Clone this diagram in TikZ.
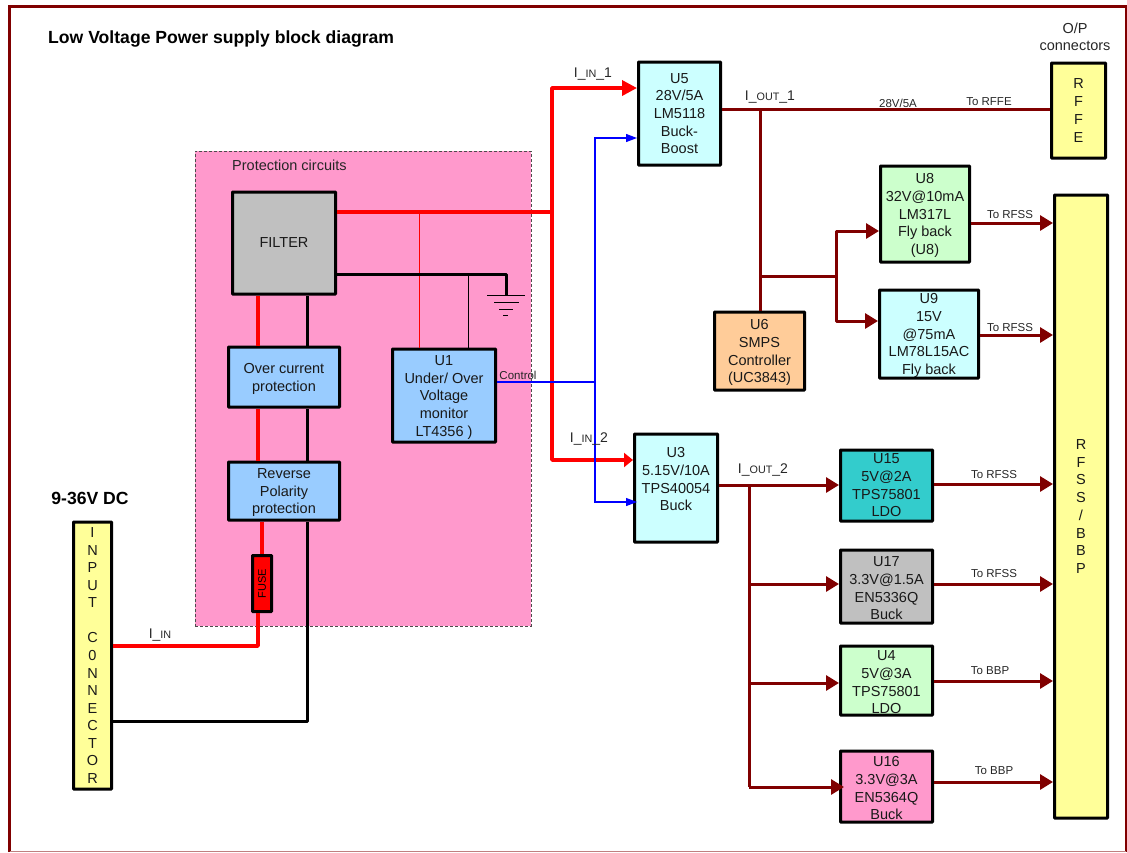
\documentclass[tikz,border=0pt]{standalone}
\usepackage{fontspec}
\setmainfont{Liberation Sans}
\usetikzlibrary{arrows.meta}
\definecolor{wine}{RGB}{128,0,0}
\definecolor{pinkbg}{RGB}{255,153,204}
\definecolor{bluebox}{RGB}{153,204,255}
\definecolor{cyanbox}{RGB}{204,255,255}
\definecolor{greenbox}{RGB}{204,255,204}
\definecolor{orangebox}{RGB}{255,204,153}
\definecolor{tealbox}{RGB}{51,204,204}
\definecolor{greybox}{RGB}{192,192,192}
\definecolor{yellowbox}{RGB}{255,255,153}
\newcommand{\sm}[1]{{\fontsize{10.8}{11}\selectfont #1}}
\newcommand{\dn}{\rule{0pt}{13.5pt}}
\tikzset{
  block/.style={draw=black, line width=3pt, align=center, inner sep=0pt, rounded corners=0.5pt,
    font=\fontsize{14.5}{17.7}\selectfont, text=black!90},
  lbl/.style={inner sep=0pt, text=black!85, font=\fontsize{14}{15}\selectfont},
  tiny/.style={inner sep=0pt, text=black!85, font=\fontsize{11.5}{12}\selectfont},
  head/.style={inner sep=0pt, font=\bfseries\fontsize{17.6}{20}\selectfont},
  redfat/.style={red, line width=3.5pt, line join=round},
  redthin/.style={red, line width=1pt},
  blkfat/.style={black, line width=3pt, line join=round},
  blkthin/.style={black, line width=1pt},
  ctrl/.style={blue, line width=1.2pt},
  wirefat/.style={wine, line width=3pt, line join=round},
  redarrow/.style={redfat, -{Triangle[length=15pt,width=15pt]}},
  ctrlarrow/.style={ctrl, -{Triangle[length=11pt,width=8pt]}},
  winearrow/.style={wirefat, -{Triangle[length=13pt,width=15pt]}},
}
\begin{document}
\begin{tikzpicture}[x=1pt,y=-1pt]
  \useasboundingbox (0,0) rectangle (1127,852);

  % frame
  \draw[wine, line width=3pt] (9.5,852) -- (9.5,6) -- (1126,6) -- (1126,852);
  \draw[wine!50, line width=0.8pt] (9.5,851) -- (1126,851);

  \node[head, anchor=west] (title) at (48,39) {Low Voltage Power supply block diagram};
  \node[head] (vdc) at (90,498) {9-36V DC};
  \node[lbl, align=center, font=\fontsize{14.5}{17}\selectfont] (opconn) at (1075,37) {O/P\\connectors};

  % protection area
  \node[draw=black!70, densely dashed, line width=0.7pt, fill=pinkbg, minimum width=336pt, minimum height=475pt, inner sep=0pt] (prot) at (363,388.5) {};
  \node[lbl, anchor=west, font=\fontsize{14.5}{16}\selectfont] (protlbl) at (232,165) {Protection circuits};

  \node[block, fill=greybox, minimum width=103pt, minimum height=102pt] (FILTER) at (284,243) {FILTER};
  \node[block, fill=bluebox, minimum width=111pt, minimum height=60pt] (OCP) at (284,377) {\dn Over current\\protection};
  \node[block, fill=bluebox, minimum width=111pt, minimum height=58pt] (RPP) at (284,491) {\dn Reverse\\Polarity\\protection};
  \node[block, fill=bluebox, minimum width=103pt, minimum height=93pt] (U1) at (444,395.5) {\dn U1\\Under/ Over\\Voltage\\monitor\\LT4356 )};
  \node[block, fill=red, minimum width=19pt, minimum height=56pt] (FUSE) at (262,583.5) {};
  \node[rotate=90, inner sep=0pt, font=\fontsize{11}{12}\selectfont] (fuselbl) at (FUSE) {FUSE};

  \node[block, fill=yellowbox, minimum width=38pt, minimum height=267pt,
    font=\fontsize{14.5}{17.55}\selectfont] (INPUT) at (92.5,655.5) {I\\N\\P\\U\\T\\~\\C\\0\\N\\N\\E\\C\\T\\O\\R};

  % regulators
  \node[block, fill=cyanbox, minimum width=82pt, minimum height=103pt] (U5) at (679.5,113.5) {U5\\28V/5A\\LM5118\\Buck-\\Boost};
  \node[block, fill=cyanbox, minimum width=83pt, minimum height=108pt] (U3) at (676,488) {U3\\5.15V/10A\\TPS40054\\Buck\\~};
  \node[block, fill=greenbox, minimum width=89pt, minimum height=96pt] (U8) at (925,214) {\dn U8\\32V@10mA\\LM317L\\Fly back\\(U8)};
  \node[block, fill=cyanbox, minimum width=99pt, minimum height=88pt] (U9) at (929,334) {\dn U9\\15V\\@75mA\\LM78L15AC\\Fly back};
  \node[block, fill=orangebox, minimum width=90pt, minimum height=78pt] (U6) at (759.5,351) {\dn U6\\SMPS\\Controller\\(UC3843)};
  \node[block, fill=tealbox, minimum width=92pt, minimum height=71pt] (U15) at (886.5,485.5) {U15\\5V@2A\\TPS75801\\LDO};
  \node[block, fill=greybox, minimum width=92pt, minimum height=73pt] (U17) at (886.5,586.5) {\dn U17\\3.3V@1.5A\\EN5336Q\\Buck};
  \node[block, fill=greenbox, minimum width=92pt, minimum height=69pt] (U4) at (886.5,680.5) {\dn U4\\5V@3A\\TPS75801\\LDO};
  \node[block, fill=pinkbg, minimum width=92pt, minimum height=71pt] (U16) at (886.5,786.5) {\dn U16\\3.3V@3A\\EN5364Q\\Buck};
  \node[block, fill=yellowbox, minimum width=54pt, minimum height=95pt] (RFFE) at (1078.5,110.5) {R\\F\\F\\E};
  \node[block, fill=yellowbox, minimum width=53pt, minimum height=623pt] (RFSS) at (1081,506.5) {R\\F\\S\\S\\/\\B\\B\\P};

  % junctions
  \coordinate (redtap) at (552,212);
  \coordinate (ctrltap) at (595,382);
  \coordinate (outtap) at (760,109);
  \coordinate (smpstap) at (836,276);
  \coordinate (buck2tap) at (749,485);
  \coordinate (gnd) at (506,295);

  % input side
  \draw[redfat] (INPUT.east |- 0,646) -- (258,646) -- (258,0 |- FUSE.south);
  \draw[redfat] (FUSE.north) -- (262,0 |- RPP.south);
  \draw[redfat] (258,0 |- RPP.north) -- (258,0 |- OCP.south);
  \draw[redfat] (258,0 |- OCP.north) -- (258,0 |- FILTER.south);
  \draw[blkfat] (INPUT.east |- 0,721.5) -- (307,721.5) -- (307,0 |- RPP.south);
  \draw[blkfat] (307,0 |- RPP.north) -- (307,0 |- OCP.south);
  \draw[blkfat] (307,0 |- OCP.north) -- (307,0 |- FILTER.south);

  \draw[redfat] (FILTER.east |- redtap) -- (redtap);
  \draw[redthin] (419,212) -- (419,0 |- U1.north);
  \draw[blkfat] (FILTER.east |- 0,274) -- (506,274) -- (gnd);
  \draw[blkthin] (468,274) -- (468,0 |- U1.north);
  \draw[black, line width=0.8pt] (487,295) -- (525,295) (494,302) -- (519,302) (499,309) -- (513,309) (503,315) -- (508,315);

  % feeds to the two converters
  \draw[redarrow] (552,460) -- (552,88) -- (U5.west |- 0,88);
  \draw[redarrow, -{Triangle[length=9pt,width=14pt]}] (redtap) -- (552,460) -- (U3.west |- 0,460);
  \draw[ctrl] (U1.east |- ctrltap) -- (ctrltap);
  \draw[ctrlarrow] (ctrltap) -- (595,138) -- (U5.west |- 0,138);
  \draw[ctrlarrow] (ctrltap) -- (595,502) -- (637,502);

  % outputs
  \draw[wirefat] (U5.east |- outtap) -- (RFFE.west |- outtap);
  \draw[wirefat] (outtap) -- (760,0 |- U6.north);
  \draw[wirefat] (760,276) -- (smpstap);
  \draw[winearrow] (smpstap) -- (836,231) -- (U8.west |- 0,231);
  \draw[winearrow] (smpstap) -- (836,321) -- (U9.west |- 0,321);
  \draw[winearrow] (U8.east |- 0,223) -- (RFSS.west |- 0,223);
  \draw[winearrow] (U9.east |- 0,335) -- (RFSS.west |- 0,335);
  \draw[winearrow] (U3.east |- buck2tap) -- (U15.west |- buck2tap);
  \draw[wirefat] (buck2tap) -- (749,787);
  \draw[winearrow] (749,584) -- (U17.west |- 0,584);
  \draw[winearrow] (749,683) -- (U4.west |- 0,683);
  \draw[winearrow] (749,787) -- (844,787);
  \draw[winearrow] (U15.east |- 0,484) -- (RFSS.west |- 0,484);
  \draw[winearrow] (U17.east |- 0,584) -- (RFSS.west |- 0,584);
  \draw[winearrow] (U4.east |- 0,681) -- (RFSS.west |- 0,681);
  \draw[winearrow] (U16.east |- 0,782) -- (RFSS.west |- 0,782);

  % wire labels
  \node[lbl] (lin) at (160,635) {I\_\sm{IN}};
  \node[lbl] (lin1) at (593,74) {I\_\sm{IN}\_1};
  \node[lbl] (lin2) at (589,439) {I\_\sm{IN}\_2};
  \node[lbl] (lout1) at (770,97) {I\_\sm{OUT}\_1};
  \node[lbl] (lout2) at (763,470) {I\_\sm{OUT}\_2};
  \node[tiny] (lctrl) at (518,375) {Control};
  \node[tiny] (lrate) at (898,103) {28V/5A};
  \node[tiny] (lrffe) at (989,102) {To RFFE};
  \node[tiny] (lu8) at (1010,215) {To RFSS};
  \node[tiny] (lu9) at (1010,328) {To RFSS};
  \node[tiny] (lu15) at (994,475) {To RFSS};
  \node[tiny] (lu17) at (994,574) {To RFSS};
  \node[tiny] (lu4) at (990,671) {To BBP};
  \node[tiny] (lu16) at (994,771) {To BBP};
\end{tikzpicture}
\end{document}
